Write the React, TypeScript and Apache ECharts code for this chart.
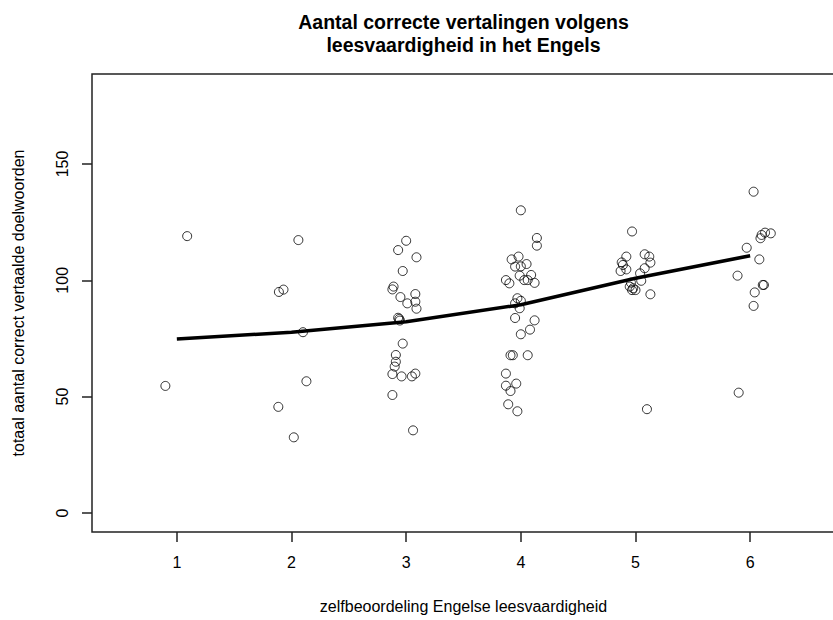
import React, { useEffect, useRef } from "react";
import * as echarts from "echarts";

const titleLines = ["Aantal correcte vertalingen volgens", "leesvaardigheid in het Engels"];
const xAxisTitle = "zelfbeoordeling Engelse leesvaardigheid";
const yAxisTitle = "totaal aantal correct vertaalde doelwoorden";

const xTicks = [1, 2, 3, 4, 5, 6];
const yTicks = [0, 50, 100, 150];

// jittered self-rating (x) and score (y) per rating group
const group1 = [
  [0.9, 54.6], [1.09, 119],
];
const group2 = [
  [1.89, 95], [1.93, 96], [2.06, 117.3], [2.1, 77.7], [2.13, 56.6], [1.885, 45.6], [2.02, 32.5],
];
const group3 = [
  [3.0, 117], [2.93, 113], [3.09, 109.9], [2.97, 104], [2.89, 97.3], [2.88, 96.1], [2.95, 92.8],
  [3.08, 94.1], [3.01, 90.1], [3.08, 90.8], [3.09, 87.8], [2.93, 83.9], [2.94, 83.4], [2.945, 82.7],
  [2.97, 72.8], [2.91, 67.9], [2.91, 65], [2.9, 62.9], [2.88, 59.7], [2.96, 58.7], [3.05, 58.7],
  [3.08, 59.9], [2.88, 50.7], [3.06, 35.5],
];
const group4 = [
  [4.0, 130.1], [4.14, 118.2], [4.14, 114.9], [3.92, 109], [3.98, 110.2], [3.95, 105.9], [4.0, 106],
  [4.05, 107], [3.99, 102], [4.09, 102.3], [4.03, 100.1], [4.06, 100.1], [4.12, 98.9], [3.87, 100.1],
  [3.9, 98.7], [3.97, 92.3], [4.0, 91.2], [3.95, 90.1], [3.99, 88], [3.95, 83.8], [4.12, 82.8],
  [4.08, 78.8], [4.0, 76.8], [3.91, 67.8], [3.93, 67.8], [4.06, 67.8], [3.87, 59.9], [3.87, 54.7],
  [3.96, 55.6], [3.91, 52.4], [3.89, 46.7], [3.97, 43.7],
];
const group5 = [
  [4.97, 121], [4.92, 110.2], [5.08, 111.2], [5.12, 110.2], [5.13, 107.6], [4.88, 107.7], [4.89, 106.6],
  [4.87, 104], [4.92, 104.7], [5.08, 105.2], [5.04, 103], [5.05, 99.8], [4.96, 99], [4.95, 97.3],
  [4.98, 96.6], [5.0, 95.8], [4.97, 95.8], [5.13, 94], [5.1, 44.6],
];
const group6 = [
  [6.03, 138.1], [6.09, 118.1], [6.1, 119.5], [6.13, 120.5], [6.18, 120.2], [5.97, 114], [6.08, 109],
  [5.89, 102], [6.11, 98], [6.12, 98], [6.04, 94.8], [6.03, 89], [5.9, 51.7],
];

// smoothed (lowess) line
const lowessX = [1, 2, 3, 4, 5, 6];
const lowessY = [74.8, 77.7, 82.2, 89.5, 100.9, 110.6];

const FONT = "Liberation Sans, Arial, Helvetica, sans-serif";

export default function App() {
  const ref = useRef<HTMLDivElement>(null);
  useEffect(() => {
    document.body.style.margin = "0";
    const chart = echarts.init(ref.current!, null, { renderer: "svg" });
    const points = [...group1, ...group2, ...group3, ...group4, ...group5, ...group6];
    chart.setOption({
      animation: false,
      backgroundColor: "#ffffff",
      textStyle: { fontFamily: FONT },
      graphic: titleLines.map((t, i) => ({
        type: "text",
        x: 463.5,
        y: 22 + i * 23,
        style: {
          text: t,
          textAlign: "center",
          textVerticalAlign: "middle",
          fontFamily: FONT,
          fontSize: 19.5,
          fontWeight: "bold",
          fill: "#000",
        },
      })),
      grid: {
        left: 92,
        top: 74,
        width: 743,
        height: 458,
        show: true,
        borderColor: "#222",
        borderWidth: 1.5,
        backgroundColor: "transparent",
        containLabel: false,
        outerBoundsMode: "none",
      },
      xAxis: {
        type: "value",
        min: 0.26,
        max: 6.74,
        position: "bottom",
        splitLine: { show: false },
        axisLine: { show: false, onZero: false },
        axisTick: { show: true, inside: false, length: 10, customValues: xTicks, lineStyle: { color: "#222", width: 1.5 } },
        axisLabel: { customValues: xTicks, margin: 22, fontSize: 16, color: "#000", fontFamily: FONT },
        name: xAxisTitle,
        nameLocation: "middle",
        nameGap: 66,
        nameTextStyle: { fontSize: 16, color: "#000", fontFamily: FONT },
      },
      yAxis: {
        type: "value",
        min: -8.2,
        max: 188.7,
        position: "left",
        splitLine: { show: false },
        axisLine: { show: false, onZero: false },
        axisTick: { show: true, inside: false, length: 10, customValues: yTicks, lineStyle: { color: "#222", width: 1.5 } },
        axisLabel: { customValues: yTicks, margin: 22, rotate: 90, fontSize: 16, color: "#000", fontFamily: FONT },
        name: yAxisTitle,
        nameLocation: "middle",
        nameGap: 66,
        nameRotate: 90,
        nameTextStyle: { fontSize: 16, color: "#000", fontFamily: FONT },
      },
      series: [
        {
          type: "scatter",
          data: points,
          symbol: "circle",
          symbolSize: 9,
          itemStyle: { color: "rgba(255,255,255,0)", borderColor: "#000", borderWidth: 1 },
          silent: true,
        },
        {
          type: "line",
          data: lowessX.map((x, i) => [x, lowessY[i]]),
          symbol: "none",
          lineStyle: { color: "#000", width: 3.5 },
          silent: true,
        },
      ],
    });
    return () => chart.dispose();
  }, []);
  return <div ref={ref} style={{ width: 833, height: 620 }} />;
}
